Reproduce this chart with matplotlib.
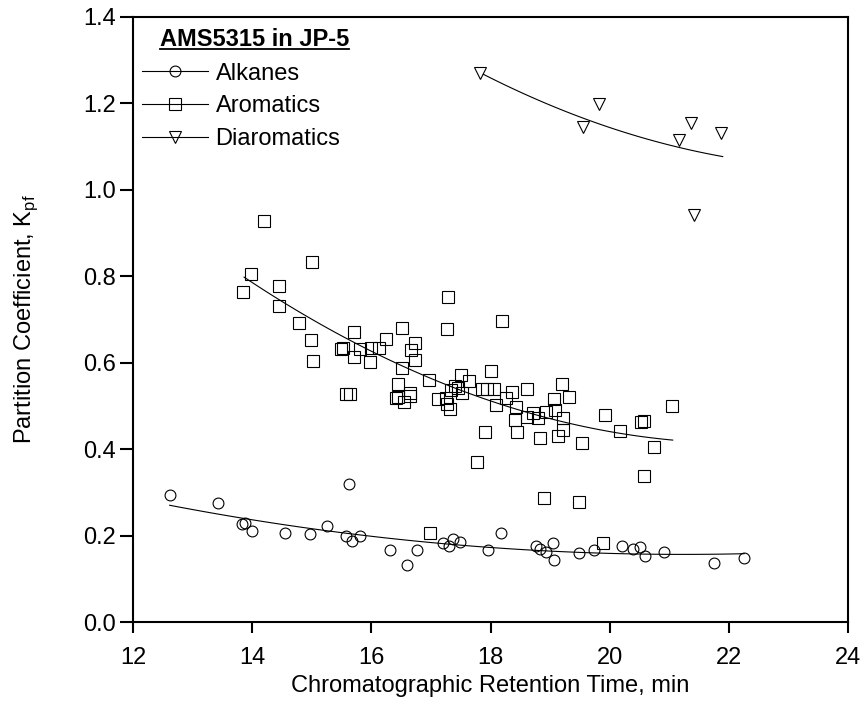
import numpy as np
import matplotlib
matplotlib.use("Agg")
import matplotlib.pyplot as plt
from matplotlib.lines import Line2D

plt.rcParams['font.family'] = ['Liberation Sans', 'DejaVu Sans']
plt.rcParams['mathtext.fontset'] = 'custom'
plt.rcParams['mathtext.rm'] = 'Liberation Sans'

# alkanes (circles)
alk_t = [12.61, 13.43, 13.83, 13.88, 14.00, 14.54, 14.96, 15.25, 15.57, 15.63,
         15.68, 15.81, 16.31, 16.60, 16.77, 17.21, 17.30, 17.37, 17.49, 17.95,
         18.17, 18.76, 18.83, 18.93, 19.05, 19.07, 19.48, 19.74, 20.21, 20.40,
         20.51, 20.60, 20.92, 21.76, 22.26]
alk_k = [0.294, 0.275, 0.227, 0.230, 0.211, 0.205, 0.203, 0.223, 0.198, 0.320,
         0.188, 0.200, 0.167, 0.133, 0.167, 0.182, 0.176, 0.191, 0.186, 0.166,
         0.205, 0.176, 0.170, 0.163, 0.182, 0.143, 0.159, 0.166, 0.176, 0.170,
         0.174, 0.153, 0.163, 0.136, 0.147]

# aromatics (squares)
aro_t = [13.85, 13.97, 14.20, 14.45, 14.45, 14.78, 14.98, 15.00, 15.02, 15.48,
         15.52, 15.57, 15.64, 15.71, 15.71, 15.80, 15.98, 16.00, 16.13, 16.24,
         16.41, 16.44, 16.45, 16.51, 16.51, 16.54, 16.64, 16.65, 16.66, 16.73,
         16.73, 16.96, 16.98, 17.12, 17.26, 17.27, 17.27, 17.29, 17.32, 17.33,
         17.40, 17.46, 17.50, 17.52, 17.63, 17.77, 17.85, 17.91, 17.94, 18.00,
         18.05, 18.10, 18.20, 18.26, 18.36, 18.41, 18.43, 18.44, 18.61, 18.62,
         18.72, 18.80, 18.83, 18.89, 18.94, 19.07, 19.08, 19.13, 19.20, 19.22,
         19.22, 19.32, 19.49, 19.54, 19.89, 19.93, 20.18, 20.52, 20.57, 20.58,
         20.75, 21.04]
aro_k = [0.763, 0.806, 0.927, 0.777, 0.732, 0.691, 0.652, 0.833, 0.604, 0.632,
         0.634, 0.527, 0.527, 0.670, 0.612, 0.631, 0.602, 0.634, 0.634, 0.655,
         0.519, 0.550, 0.521, 0.681, 0.587, 0.508, 0.530, 0.523, 0.629, 0.645,
         0.607, 0.560, 0.205, 0.515, 0.517, 0.504, 0.678, 0.751, 0.492, 0.537,
         0.546, 0.542, 0.571, 0.529, 0.557, 0.371, 0.540, 0.440, 0.540, 0.581,
         0.540, 0.502, 0.697, 0.517, 0.532, 0.468, 0.498, 0.440, 0.475, 0.540,
         0.483, 0.471, 0.425, 0.286, 0.485, 0.516, 0.490, 0.431, 0.550, 0.473,
         0.444, 0.521, 0.277, 0.413, 0.183, 0.479, 0.442, 0.462, 0.466, 0.338,
         0.405, 0.500]

# diaromatics (down triangles)
dia_t = [17.82, 19.56, 19.83, 21.17, 21.37, 21.42, 21.87]
dia_k = [1.270, 1.144, 1.198, 1.115, 1.155, 0.941, 1.130]

# fitted trend lines
alk_fit_t = [12.61, 14.0, 16.0, 18.0, 20.0, 22.0, 22.26]
alk_fit_k = [0.271, 0.236, 0.196, 0.173, 0.161, 0.157, 0.157]
aro_fit_t = [13.86, 14.45, 16.0, 18.0, 20.0, 21.06]
aro_fit_k = [0.799, 0.749, 0.614, 0.521, 0.440, 0.419]
dia_fit_t = [17.88, 19.67, 21.16, 21.90]
dia_fit_k = [1.267, 1.159, 1.099, 1.076]

fs = 17

fig = plt.figure(figsize=(8.63, 7.12), dpi=100)
ax = fig.add_axes([0.1545, 0.1264, 0.8278, 0.8501])

mk = dict(mfc='none', mec='black', mew=0.8, ls='none')
ax.plot(alk_t, alk_k, marker='o', ms=7.8, **mk)
ax.plot(aro_t, aro_k, marker='s', ms=8.8, **mk)
ax.plot(dia_t, dia_k, marker='v', ms=8.8, **mk)

for ft, fk in [(alk_fit_t, alk_fit_k), (aro_fit_t, aro_fit_k), (dia_fit_t, dia_fit_k)]:
    c = np.polyfit(ft, fk, 2)
    xs = np.linspace(ft[0], ft[-1], 100)
    ax.plot(xs, np.polyval(c, xs), color='black', lw=0.8)

ax.set_xlim(12, 24)
ax.set_ylim(0, 1.4)
ax.set_xticks([12, 14, 16, 18, 20, 22, 24])
ax.set_yticks(np.arange(0, 1.41, 0.2))
ax.yaxis.set_major_formatter(plt.FormatStrFormatter('%.1f'))
ax.tick_params(axis='x', direction='out', length=8, width=1.5, labelsize=fs, pad=10)
ax.tick_params(axis='y', direction='out', length=9.5, width=1.5, labelsize=fs, pad=3)
for s in ax.spines.values():
    s.set_linewidth(1.5)

ax.set_xlabel('Chromatographic Retention Time, min', fontsize=fs, labelpad=4)
ax.set_ylabel(r'Partition Coefficient, K$_{\mathregular{pf}}$', fontsize=fs, labelpad=31)

handles = [Line2D([], [], color='black', lw=0.8, marker='o', ms=7.8, mfc='none', mec='black', mew=0.8),
           Line2D([], [], color='black', lw=0.8, marker='s', ms=8.8, mfc='none', mec='black', mew=0.8),
           Line2D([], [], color='black', lw=0.8, marker='v', ms=8.8, mfc='none', mec='black', mew=0.8)]
ax.legend(handles, ['Alkanes', 'Aromatics', 'Diaromatics'], loc='upper left',
          bbox_to_anchor=(0.0126, 0.924), frameon=False, fontsize=fs,
          handlelength=2.8, handletextpad=0.3, labelspacing=0.45,
          borderaxespad=0, borderpad=0)

t = ax.text(0.0374, 0.963, 'AMS5315 in JP-5', transform=ax.transAxes,
            fontsize=fs, fontweight='bold', va='center', ha='left')
fig.canvas.draw()
bb = t.get_window_extent().transformed(ax.transAxes.inverted())
ax.plot([bb.x0, bb.x1], [bb.y0 + 0.002, bb.y0 + 0.002], transform=ax.transAxes,
        color='black', lw=1.3, clip_on=False)

fig.savefig('out.png', dpi=100)
